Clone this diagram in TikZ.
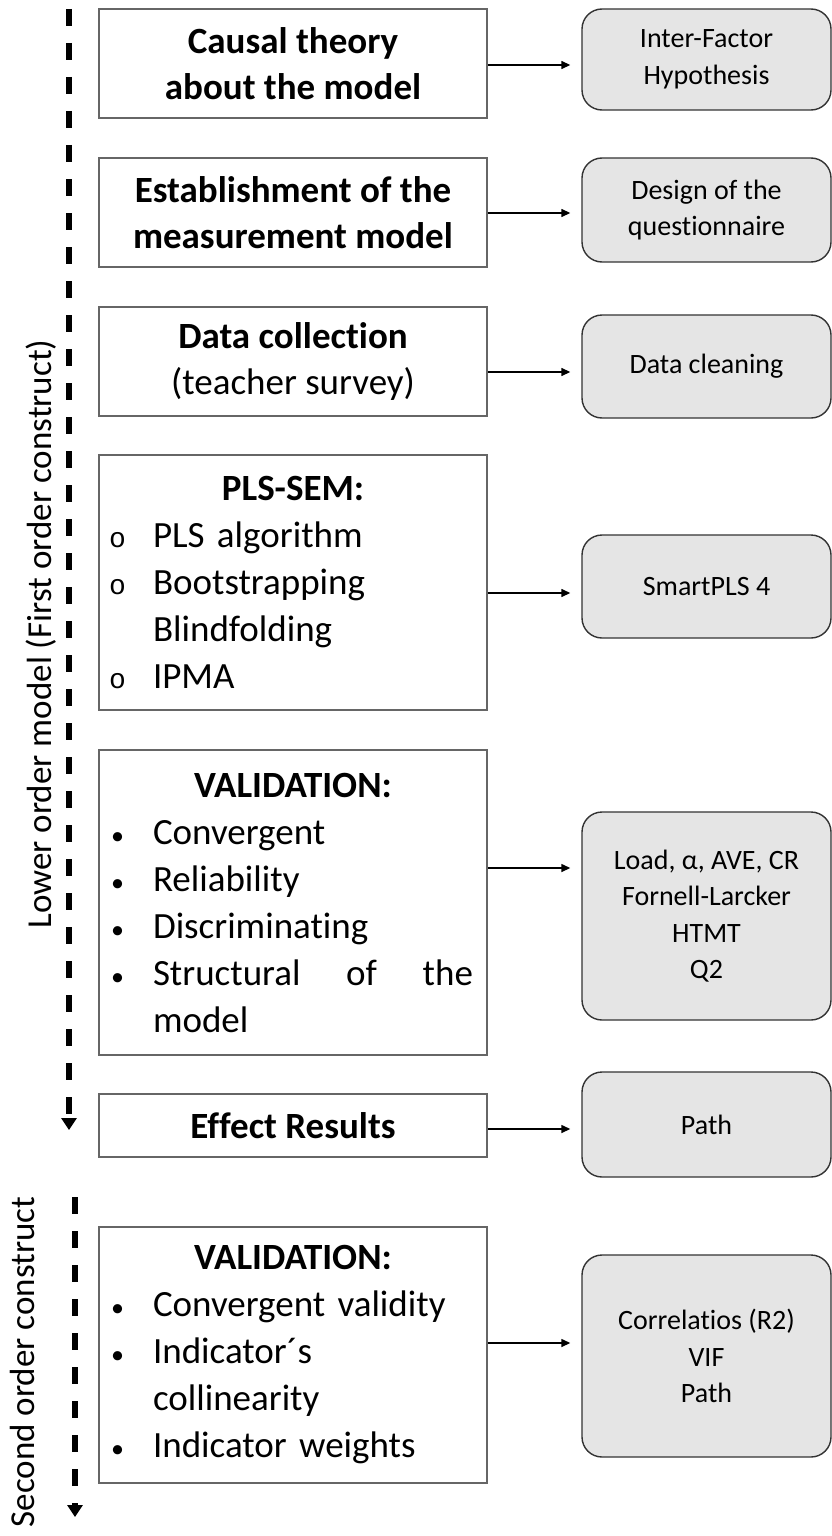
\documentclass[tikz,border=0pt]{standalone}
\usepackage{fontspec}
\setmainfont{Carlito}[Ligatures={NoCommon}]
\newfontfamily\bulletfont{Liberation Mono}
\usetikzlibrary{positioning}
\usetikzlibrary{arrows.meta}

\newcommand{\bitem}[2]{\mbox{\makebox[44pt][l]{#1}#2}}
\newcommand{\obul}{{\bulletfont\fontsize{28}{28}\selectfont o}}
\newcommand{\fbul}{\hspace{2pt}{\fontsize{26}{26}\selectfont\textbullet}}

\tikzset{
  stepbox/.style={draw=black!60, line width=1.6pt, minimum width=388pt, inner xsep=10pt, font=\fontsize{37}{46}\selectfont},
  listbox/.style={stepbox, text width=368pt, align=left, font=\fontsize{37}{47}\selectfont},
  toolbox/.style={draw=black!80, fill=black!10, line width=1.4pt, rounded corners=20pt, minimum width=249pt, align=center, font=\fontsize{28}{36.5}\selectfont},
  link/.style={-{Triangle[length=9pt,width=8pt]}, line width=1.4pt, shorten >=11pt},
  phase/.style={line width=5.5pt, dash pattern=on 17pt off 17pt, -{Triangle[length=12pt,width=15pt]}},
  phaselbl/.style={rotate=90, font=\fontsize{35}{42}\selectfont}
}

\begin{document}
\begin{tikzpicture}[x=1pt, y=-1pt]
  \useasboundingbox (0,0) rectangle (832,1536);

  \node[stepbox, minimum height=109pt, align=center] (causal) at (293,63.5) {\textbf{Causal theory}\\\textbf{about the model}};
  \node[stepbox, minimum height=109pt, align=center] (estab) at (293,212.5) {\textbf{Establishment of the}\\\textbf{measurement model}};
  \node[stepbox, minimum height=109pt, align=center] (collect) at (293,361.5) {\textbf{Data collection}\\(teacher survey)};
  \node[listbox, minimum height=255pt] (plssem) at (293,582.5) {\makebox[368pt]{\textbf{PLS-SEM:}}\\
    \bitem{\obul}{PLS algorithm}\\
    \bitem{\obul}{Bootstrapping}\\
    \bitem{}{Blindfolding}\\
    \bitem{\obul}{IPMA}};
  \node[listbox, minimum height=305pt] (valid) at (293,902.5) {\makebox[368pt]{\textbf{VALIDATION:}}\\
    \bitem{\fbul}{Convergent}\\
    \bitem{\fbul}{Reliability}\\
    \bitem{\fbul}{Discriminating}\\
    \bitem{\fbul}{\hbox to 320pt{Structural\hfill of\hfill the}}\\
    \bitem{}{model}};
  \node[stepbox, minimum height=63pt, align=center] (effect) at (293,1125.5) {\textbf{Effect Results}};
  \node[listbox, minimum height=256pt] (secvalid) at (293,1355) {\makebox[368pt]{\textbf{VALIDATION:}}\\
    \bitem{\fbul}{Convergent validity}\\
    \bitem{\fbul}{Indicator´s}\\
    \bitem{}{collinearity}\\
    \bitem{\fbul}{Indicator weights}};

  \node[toolbox, minimum height=101pt] (hypo) at (706.5,59.5) {Inter-Factor\\Hypothesis};
  \node[toolbox, minimum height=104pt] (design) at (706.5,210) {Design of the\\questionnaire};
  \node[toolbox, minimum height=103pt] (clean) at (706.5,366.5) {Data cleaning};
  \node[toolbox, minimum height=103pt] (smart) at (706.5,586.5) {SmartPLS 4};
  \node[toolbox, minimum height=208pt] (measures) at (706.5,916) {Load, α, AVE, CR\\Fornell-Larcker\\HTMT\\Q2};
  \node[toolbox, minimum height=105pt] (pathres) at (706.5,1124.5) {Path};
  \node[toolbox, minimum height=202pt] (secmeas) at (706.5,1356) {Correlatios (R2)\\VIF\\Path};

  \foreach \a/\b/\dy in {causal/hypo/-1.5, estab/design/-0.5, collect/clean/-10.5, plssem/smart/-10.5, valid/measures/34.5, effect/pathres/-3.5, secvalid/secmeas/12}{
    \coordinate (s) at ([yshift=\dy pt]\a.east);
    \draw[link] (s) -- (s -| \b.west);
  }

  \coordinate (lowtop) at (69,9);
  \coordinate (lowend) at (69,1130);
  \coordinate (sectop) at (75,1197);
  \coordinate (secend) at (75,1517);
  \draw[phase] (lowtop) -- (lowend);
  \draw[phase] (sectop) -- (secend);

  \node[phaselbl] (lowlbl) at (41,634) {Lower order model (First order construct)};
  \node[phaselbl] (seclbl) at (22,1362) {Second order construct};
\end{tikzpicture}
\end{document}
